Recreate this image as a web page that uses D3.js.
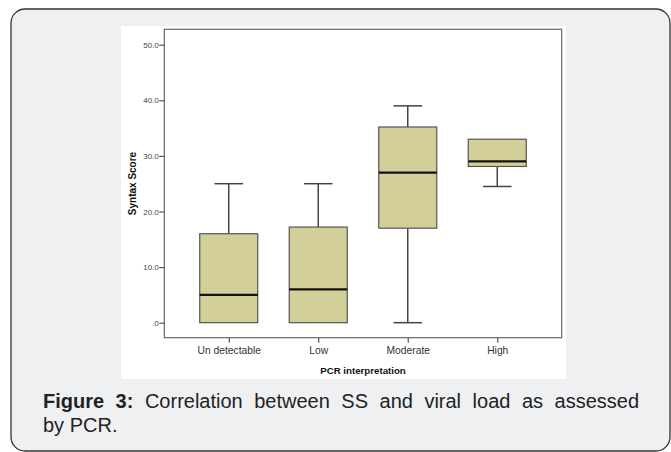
<!DOCTYPE html>
<html>
<head>
<meta charset="utf-8">
<script src="https://cdn.jsdelivr.net/npm/d3@7"></script>
<style>
  html, body { margin: 0; padding: 0; background: #fff; }
  #wrap { position: relative; width: 671px; height: 452px; overflow: hidden; }
  svg { position: absolute; left: 0; top: 0; }
  .caption {
    position: absolute; left: 43px; width: 596px;
    font-family: "Liberation Sans", Arial, sans-serif; font-size: 20px;
    line-height: 24px; color: #222; white-space: nowrap;
  }
  .caption.l1 { text-align: justify; text-align-last: justify; white-space: normal; }
  .caption b { font-weight: bold; }
</style>
</head>
<body>
<div id="wrap"></div>
<script>
// data
const categories = ['Un detectable', 'Low', 'Moderate', 'High'];
const whiskerLow = [0, 0, 0, 24.5];
const q1 = [0, 0, 17, 28.1];
const median = [5, 6, 27, 29];
const q3 = [16, 17.2, 35.2, 33];
const whiskerHigh = [25, 25, 39, 33];
const yTicks = [0, 10, 20, 30, 40, 50];

const W = 671, H = 452;
const plot = { left: 164.3, right: 561.7, top: 29.3, bottom: 337.7 };

const wrap = d3.select('#wrap');
const svg = wrap.append('svg').attr('width', W).attr('height', H);

// outer rounded frame
svg.append('rect')
  .attr('x', 11).attr('y', 9).attr('width', 659).attr('height', 442)
  .attr('rx', 14).attr('ry', 14)
  .attr('fill', '#eff0f2').attr('stroke', '#333').attr('stroke-width', 1.3);

// white image panel
svg.append('rect')
  .attr('x', 121).attr('y', 26).attr('width', 445).attr('height', 353)
  .attr('fill', '#fff');

const x = d3.scalePoint()
  .domain(categories)
  .range([plot.left, plot.right])
  .padding(0.72);

const y = d3.scaleLinear()
  .domain([-2.7, 52.77])
  .range([plot.bottom, plot.top]);

const rows = categories.map((c, i) => ({
  cat: c, lo: whiskerLow[i], q1: q1[i], med: median[i], q3: q3[i], hi: whiskerHigh[i]
}));

const boxW = 58;
const capW = 28.5;

// plot frame
svg.append('rect')
  .attr('x', plot.left).attr('y', plot.top)
  .attr('width', plot.right - plot.left).attr('height', plot.bottom - plot.top)
  .attr('fill', 'none').attr('stroke', '#666').attr('stroke-width', 1.2);

// y axis
const yAxis = svg.append('g')
  .attr('transform', `translate(${plot.left},0)`)
  .call(d3.axisLeft(y).tickValues(yTicks).tickSize(5).tickSizeOuter(0)
    .tickFormat(d => d === 0 ? '.0' : d.toFixed(1)));
yAxis.select('.domain').remove();
yAxis.selectAll('line').attr('stroke', '#555').attr('stroke-width', 1.2);
yAxis.selectAll('text')
  .attr('x', -5.5)
  .attr('fill', '#444')
  .style('font-family', '"Liberation Sans", Arial, sans-serif')
  .style('font-size', '8px');

// x axis
const xAxis = svg.append('g')
  .attr('transform', `translate(0,${plot.bottom})`)
  .call(d3.axisBottom(x).tickSize(5).tickSizeOuter(0));
xAxis.select('.domain').remove();
xAxis.selectAll('line').attr('stroke', '#555').attr('stroke-width', 1.2);
xAxis.selectAll('text')
  .attr('y', 9)
  .attr('fill', '#333')
  .style('font-family', '"Liberation Sans", Arial, sans-serif')
  .style('font-size', '10.3px');

// axis titles
svg.append('text')
  .attr('x', (plot.left + plot.right) / 2).attr('y', 374)
  .attr('text-anchor', 'middle')
  .style('font-family', '"Liberation Sans", Arial, sans-serif')
  .style('font-size', '9.7px').style('font-weight', 'bold')
  .attr('fill', '#111')
  .text('PCR interpretation');

svg.append('text')
  .attr('transform', `translate(135.5,${(plot.top + plot.bottom) / 2}) rotate(-90)`)
  .attr('text-anchor', 'middle')
  .style('font-family', '"Liberation Sans", Arial, sans-serif')
  .style('font-size', '10px').style('font-weight', 'bold')
  .attr('fill', '#111')
  .text('Syntax Score');

const boxes = svg.append('g').selectAll('g').data(rows).join('g');

// whiskers
boxes.filter(d => d.hi > d.q3).append('line')
  .attr('x1', d => x(d.cat)).attr('x2', d => x(d.cat))
  .attr('y1', d => y(d.q3)).attr('y2', d => y(d.hi))
  .attr('stroke', '#444').attr('stroke-width', 1.5);
boxes.filter(d => d.hi > d.q3).append('line')
  .attr('x1', d => x(d.cat) - capW / 2).attr('x2', d => x(d.cat) + capW / 2)
  .attr('y1', d => y(d.hi)).attr('y2', d => y(d.hi))
  .attr('stroke', '#444').attr('stroke-width', 1.5);
boxes.filter(d => d.lo < d.q1).append('line')
  .attr('x1', d => x(d.cat)).attr('x2', d => x(d.cat))
  .attr('y1', d => y(d.q1)).attr('y2', d => y(d.lo))
  .attr('stroke', '#444').attr('stroke-width', 1.5);
boxes.filter(d => d.lo < d.q1).append('line')
  .attr('x1', d => x(d.cat) - capW / 2).attr('x2', d => x(d.cat) + capW / 2)
  .attr('y1', d => y(d.lo)).attr('y2', d => y(d.lo))
  .attr('stroke', '#444').attr('stroke-width', 1.5);

// boxes
boxes.append('rect')
  .attr('x', d => x(d.cat) - boxW / 2)
  .attr('y', d => y(d.q3))
  .attr('width', boxW)
  .attr('height', d => y(d.q1) - y(d.q3))
  .attr('fill', '#d3cf98')
  .attr('stroke', '#555').attr('stroke-width', 1.2);

// medians
boxes.append('line')
  .attr('x1', d => x(d.cat) - boxW / 2).attr('x2', d => x(d.cat) + boxW / 2)
  .attr('y1', d => y(d.med)).attr('y2', d => y(d.med))
  .attr('stroke', '#111').attr('stroke-width', 2.2);

// caption
wrap.append('div').attr('class', 'caption l1').style('top', '389px')
  .html('<b>Figure 3:</b> Correlation between SS and viral load as assessed');
wrap.append('div').attr('class', 'caption').style('top', '413px')
  .text('by PCR.');
</script>
</body>
</html>
